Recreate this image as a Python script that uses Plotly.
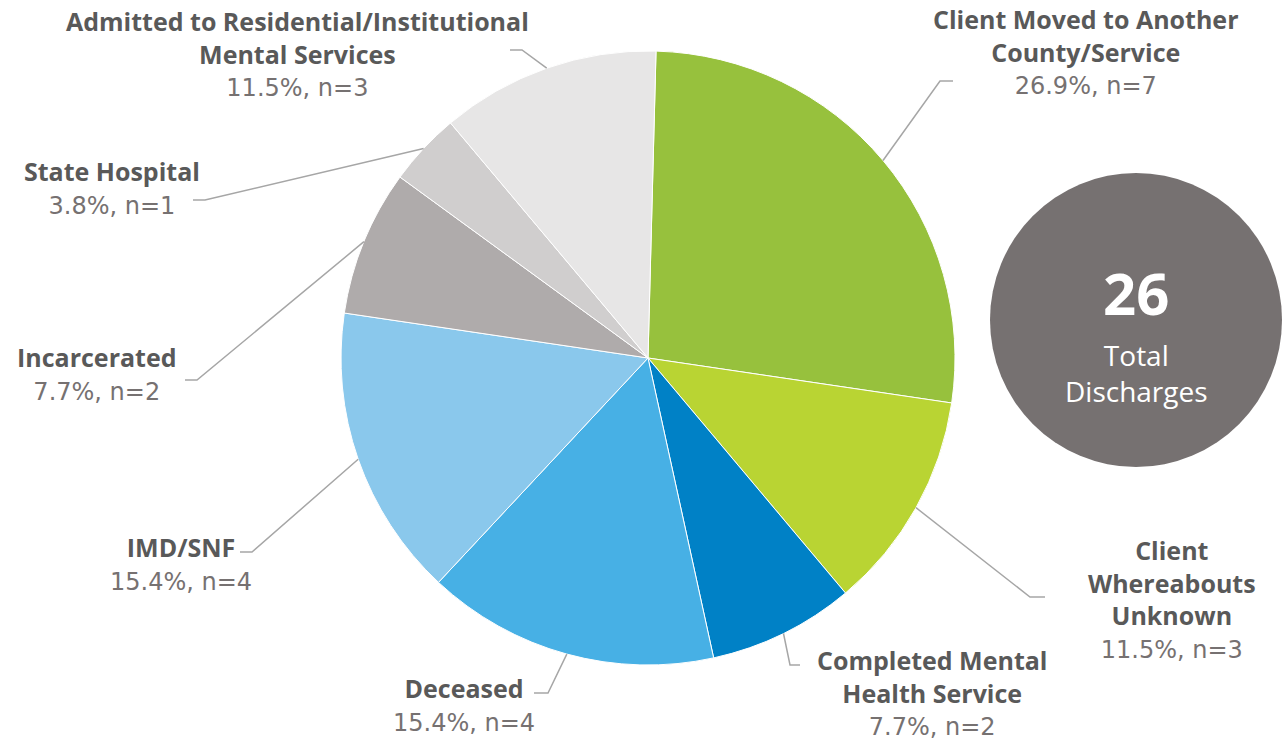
import math
import plotly.graph_objects as go

# ---- data ----
categories = [
    "Client Moved to Another County/Service",
    "Client Whereabouts Unknown",
    "Completed Mental Health Service",
    "Deceased",
    "IMD/SNF",
    "Incarcerated",
    "State Hospital",
    "Admitted to Residential/Institutional Mental Services",
]
counts = [7, 3, 2, 4, 4, 2, 1, 3]
percent_labels = ["26.9%", "11.5%", "7.7%", "15.4%", "15.4%", "7.7%", "3.8%", "11.5%"]
label_lines = [
    "Client Moved to Another<br>County/Service",
    "Client<br>Whereabouts<br>Unknown",
    "Completed Mental<br>Health Service",
    "Deceased",
    "IMD/SNF",
    "Incarcerated",
    "State Hospital",
    "Admitted to Residential/Institutional<br>Mental Services",
]
total_label = "26"
total_caption = "Total<br>Discharges"

colors = ["#97C13D", "#B9D433", "#0081C6", "#47B0E5", "#8AC8EC",
          "#AFABAB", "#D0CECE", "#E7E6E6"]

# ---- layout (pixel space) ----
W, H = 1285, 740
CX, CY, R = 648, 358, 307
ROT = 1.5
FONT = "Open Sans"
VAL_FONT = "DejaVu Sans"
NAME_COLOR = "#595959"
VAL_COLOR = "#767171"
LINE_COLOR = "#A6A6A6"
FS = 25

# label anchors (center x, first line center y) and leader elbow points
label_pos = [(1085, 20), (1172, 551), (932, 661), (464, 689),
             (181, 548), (97, 358), (112, 172), (297, 22)]
elbows = [((940, 81), (953, 81)), ((1030, 597), (1045, 597)),
          ((790, 665), (800, 665)), ((548, 693), (534, 693)),
          ((252, 552), (240, 552)), ((197, 380), (185, 380)),
          ((205, 200), (193, 200)), ((522, 50), (510, 50))]

fig = go.Figure()
fig.add_trace(go.Pie(
    labels=categories, values=counts, sort=False, direction="clockwise",
    rotation=ROT, marker=dict(colors=colors, line=dict(color="white", width=1)),
    textinfo="none", showlegend=False,
    domain=dict(x=[(CX - R) / W, (CX + R) / W], y=[1 - (CY + R) / H, 1 - (CY - R) / H]),
))
# invisible overlay axes for pixel coords
fig.add_trace(go.Scatter(x=[0, W], y=[0, H], mode="markers", marker=dict(opacity=0),
                         hoverinfo="skip", showlegend=False))

total = sum(counts)
cum = 0
shapes = []
annotations = []
for i, c in enumerate(counts):
    mid = (cum + c / 2) / total * 360 + ROT
    cum += c
    a = math.radians(mid)
    ex, ey = CX + R * math.sin(a), CY - R * math.cos(a)
    (bx, by), (tx, ty) = elbows[i]
    shapes.append(dict(type="path", xref="x", yref="y",
                       path=f"M {ex:.1f},{ey:.1f} L {bx},{by} L {tx},{ty}",
                       line=dict(color=LINE_COLOR, width=1.5)))
    lx, ly = label_pos[i]
    txt = (f"<b>{label_lines[i]}</b><br>"
           f"<span style='color:{VAL_COLOR};font-family:{VAL_FONT};font-size:24px'>"
           f"{percent_labels[i]}, n={c}</span>")
    annotations.append(dict(x=lx, y=ly - 20, xref="x", yref="y", text=txt, showarrow=False,
                            xanchor="center", yanchor="top", align="center",
                            font=dict(family=FONT, size=FS, color=NAME_COLOR)))

# total circle
shapes.append(dict(type="circle", xref="x", yref="y", x0=990, x1=1282, y0=173, y1=467,
                   fillcolor="#767171", line=dict(width=0), layer="above"))
annotations.append(dict(x=1136, y=333, xref="x", yref="y", text=f"<b>{total_label}</b>",
                        showarrow=False, yanchor="bottom", borderpad=0,
                        font=dict(family=FONT, size=58, color="white")))
annotations.append(dict(x=1136, y=335, xref="x", yref="y", text=total_caption,
                        showarrow=False, yanchor="top", borderpad=0,
                        font=dict(family=FONT, size=28, color="white")))

fig.update_layout(
    width=W, height=H, margin=dict(l=0, r=0, t=0, b=0),
    paper_bgcolor="white", plot_bgcolor="rgba(0,0,0,0)",
    xaxis=dict(range=[0, W], visible=False, domain=[0, 1], fixedrange=True),
    yaxis=dict(range=[H, 0], visible=False, domain=[0, 1], fixedrange=True),
    shapes=shapes, annotations=annotations, font=dict(family=FONT),
)
fig.write_html("out.html", config={"displayModeBar": False},
               post_script="document.body.style.margin='0';")
